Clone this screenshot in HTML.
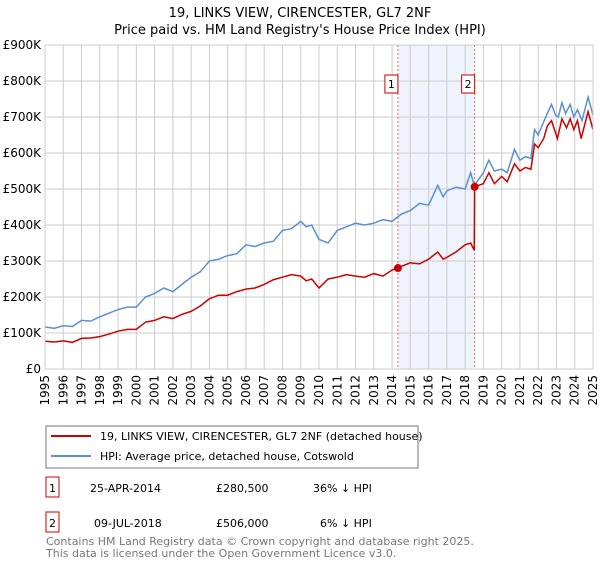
<!DOCTYPE html>
<html><head><meta charset="utf-8"><style>
body{margin:0;background:#fff;font-family:"Liberation Sans","DejaVu Sans",sans-serif;}
</style></head><body>
<svg id="c" width="600" height="560" xmlns="http://www.w3.org/2000/svg" font-family="DejaVu Sans, Liberation Sans, sans-serif">
<text x="300" y="17" text-anchor="middle" font-size="13">19, LINKS VIEW, CIRENCESTER, GL7 2NF</text>
<text x="300" y="34" text-anchor="middle" font-size="13">Price paid vs. HM Land Registry's House Price Index (HPI)</text>
<g id="grid"></g><g id="marks"></g>
<rect x="46" y="426" width="372" height="42" fill="#fff" stroke="#777"/>
<line x1="51" y1="436" x2="91" y2="436" stroke="#cc0000" stroke-width="2"/>
<text x="100" y="440" font-size="11">19, LINKS VIEW, CIRENCESTER, GL7 2NF (detached house)</text>
<line x1="51" y1="456" x2="91" y2="456" stroke="#5b8fd4" stroke-width="2"/>
<text x="100" y="460" font-size="11">HPI: Average price, detached house, Cotswold</text>
<g font-size="11">
<rect x="46" y="477" width="13" height="20" fill="#fff" stroke="#cc0000"/>
<text x="52.5" y="492" text-anchor="middle">1</text>
<text x="90" y="492">25-APR-2014</text>
<text x="216" y="492">£280,500</text>
<text x="313" y="492">36% ↓ HPI</text>
<rect x="46" y="512" width="13" height="20" fill="#fff" stroke="#cc0000"/>
<text x="52.5" y="527" text-anchor="middle">2</text>
<text x="94" y="527">09-JUL-2018</text>
<text x="216" y="527">£506,000</text>
<text x="320" y="527">6% ↓ HPI</text>
</g>
<text x="46" y="545" font-size="11" fill="#777">Contains HM Land Registry data © Crown copyright and database right 2025.</text>
<text x="46" y="557" font-size="11" fill="#777">This data is licensed under the Open Government Licence v3.0.</text>
</svg>
<script>
const yTicks=[0,100,200,300,400,500,600,700,800,900];
const yTickLabels=["£0","£100K","£200K","£300K","£400K","£500K","£600K","£700K","£800K","£900K"];
const xYears=[1995,1996,1997,1998,1999,2000,2001,2002,2003,2004,2005,2006,2007,2008,2009,2010,2011,2012,2013,2014,2015,2016,2017,2018,2019,2020,2021,2022,2023,2024,2025];
const hpiT=[1995,1995.5,1996,1996.5,1997,1997.5,1998,1998.5,1999,1999.5,2000,2000.5,2001,2001.5,2002,2002.5,2003,2003.5,2004,2004.5,2005,2005.5,2006,2006.5,2007,2007.5,2008,2008.5,2009,2009.3,2009.6,2010,2010.5,2011,2011.5,2012,2012.5,2013,2013.5,2014,2014.5,2015,2015.5,2016,2016.5,2016.8,2017,2017.5,2018,2018.3,2018.5,2019,2019.3,2019.6,2020,2020.3,2020.7,2021,2021.3,2021.6,2021.8,2022,2022.2,2022.5,2022.73,2022.95,2023.1,2023.3,2023.5,2023.75,2023.95,2024.15,2024.4,2024.73,2025];
const hpiV=[117,113,120,118,135,133,145,155,165,172,172,200,210,225,215,235,255,270,300,305,315,320,345,340,350,355,385,390,410,395,400,360,350,385,395,405,400,405,415,410,430,440,460,455,510,478,495,505,500,545,510,545,580,550,555,545,610,580,590,585,665,650,675,710,735,705,700,740,710,735,700,720,690,755,705];
const salesT=[2014.32,2018.52];
const salesV=[280.5,506];
const ppT=[1995,1995.5,1996,1996.5,1997,1997.5,1998,1998.5,1999,1999.5,2000,2000.5,2001,2001.5,2002,2002.5,2003,2003.5,2004,2004.5,2005,2005.5,2006,2006.5,2007,2007.5,2008,2008.5,2009,2009.3,2009.6,2010,2010.5,2011,2011.5,2012,2012.5,2013,2013.5,2014,2014.32,2014.5,2015,2015.5,2016,2016.5,2016.8,2017,2017.5,2018,2018.3,2018.5,2018.52,2019,2019.3,2019.6,2020,2020.3,2020.7,2021,2021.3,2021.6,2021.8,2022,2022.3,2022.5,2022.73,2023.05,2023.3,2023.55,2023.75,2023.95,2024.15,2024.35,2024.73,2025];
const ppV=[77,75,78,74,85,86,90,97,105,110,110,130,135,145,140,152,160,175,195,205,205,215,222,225,235,248,255,262,258,245,250,225,250,255,262,258,255,265,258,275,280.5,285,295,292,305,325,305,310,325,345,350,330,506,515,545,515,535,520,570,550,560,555,625,615,640,675,690,640,695,670,695,665,690,640,715,665];
const X0=45,X1=593,Y0=369,YT=45;
const xs=t=>X0+(t-1995)/30*(X1-X0);
const ys=v=>Y0-v/900*(Y0-YT);
const NS="http://www.w3.org/2000/svg";
const g=document.getElementById('grid'),m=document.getElementById('marks');
function mk(p,tag,at){const e=document.createElementNS(NS,tag);for(const k in at)e.setAttribute(k,at[k]);p.appendChild(e);return e;}
let r=mk(g,'rect',{x:xs(salesT[0]),y:YT,width:xs(salesT[1])-xs(salesT[0]),height:Y0-YT,fill:'#eef3fc'});


yTicks.forEach((v,i)=>{
 let l=mk(g,'line',{x1:X0,x2:X1,y1:ys(v),y2:ys(v),stroke:'#ccc'});
 
 
 let t=mk(g,'text',{x:X0-4,y:ys(v)+4,'text-anchor':'end','font-size':'12'});t.textContent=yTickLabels[i];
 
 
});
xYears.forEach(y=>{
 let l=mk(g,'line',{x1:xs(y),x2:xs(y),y1:YT,y2:Y0,stroke:'#ccc'});
 
 
 let t=mk(g,'text',{x:0,y:0,'text-anchor':'end','font-size':'12',transform:`translate(${xs(y)+4},${Y0+6}) rotate(-90)`});t.textContent=y;
 
 
});
salesT.forEach((t,i)=>{
 let l=mk(m,'line',{x1:xs(t),x2:xs(t),y1:YT,y2:Y0,stroke:'#e06666','stroke-dasharray':'2,2'});
 
 
 let b=mk(m,'rect',{x:xs(t)-13,y:75,width:13,height:18,fill:'#fff',stroke:'#cc0000'});
 
 
 let tx=mk(m,'text',{x:xs(t)-6.5,y:88,'text-anchor':'middle','font-size':'11'});tx.textContent=i+1;
 
 
});
let hp=mk(m,'polyline',{points:hpiT.map((t,i)=>xs(t)+','+ys(hpiV[i])).join(' '),fill:'none',stroke:'#5b8fd4','stroke-width':1.5});


let pp=mk(m,'polyline',{points:ppT.map((t,i)=>xs(t)+','+ys(ppV[i])).join(' '),fill:'none',stroke:'#cc0000','stroke-width':1.5});


salesT.forEach((t,i)=>{
 let c=mk(m,'circle',{cx:xs(t),cy:ys(salesV[i]),r:4,fill:'#cc0000'});
 
 
});
let ax=mk(m,'rect',{x:X0,y:YT,width:X1-X0,height:Y0-YT,fill:'none',stroke:'#ccc'});


</script>
</body></html>
